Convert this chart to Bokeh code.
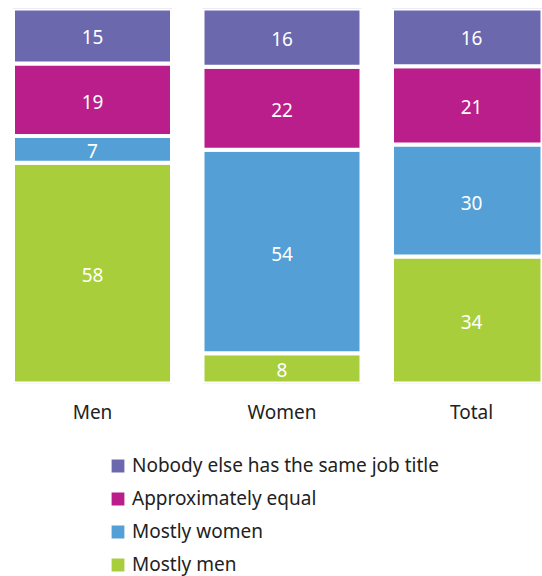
from bokeh.plotting import figure
from bokeh.layouts import column
from bokeh.models import ColumnDataSource, Range1d, FixedTicker, Legend, LegendItem, LabelSet
from bokeh.core.properties import value
from bokeh.embed import file_html
from bokeh.resources import INLINE

categories = ["Men", "Women", "Total"]
series_names = ["Mostly men", "Mostly women", "Approximately equal",
                "Nobody else has the same job title"]
mostly_men = [58, 8, 34]
mostly_women = [7, 54, 30]
approximately_equal = [19, 22, 21]
nobody_else = [15, 16, 16]
colors = ["#A8CF3B", "#539FD6", "#BA1E8A", "#6C68AE"]

FONT = "Noto Sans"
series = [mostly_men, mostly_women, approximately_equal, nobody_else]
xs = list(range(len(categories)))
totals = [sum(s[i] for s in series) for i in xs]

p = figure(width=542, height=440, output_backend="svg", toolbar_location=None,
           x_range=Range1d(-0.4433, 2.3747), y_range=Range1d(0, 99.47),
           y_axis_location=None,
           min_border_left=8, min_border_right=0, min_border_top=8,
           min_border_bottom=57)
p.outline_line_color = None
p.xgrid.grid_line_color = None
p.ygrid.grid_line_color = None

ax = p.xaxis[0]
ax.ticker = FixedTicker(ticks=xs)
ax.major_label_overrides = {i: c for i, c in zip(xs, categories)}
ax.axis_line_color = None
ax.major_tick_line_color = None
ax.minor_tick_line_color = None
ax.major_label_text_font = FONT
ax.major_label_text_font_size = "19px"
ax.major_label_text_color = "#222222"
ax.major_label_standoff = 9

bottoms = [0.0] * len(xs)
for name, vals, col in zip(series_names, series, colors):
    pct = [v / t * 100 for v, t in zip(vals, totals)]
    tops = [b + q for b, q in zip(bottoms, pct)]
    src = ColumnDataSource(dict(
        x=xs, bottom=bottoms, top=tops,
        mid=[(b + t) / 2 for b, t in zip(bottoms, tops)],
        label=[str(v) for v in vals]))
    p.vbar(x="x", bottom="bottom", top="top", width=0.839, source=src,
           fill_color=col, line_color="white", line_width=4)
    p.add_layout(LabelSet(x="x", y="mid", text="label", source=src,
                          text_align="center", text_baseline="middle",
                          y_offset=-2,
                          text_color="white", text_font=value(FONT),
                          text_font_size="19px"))
    bottoms = tops

# legend figure
lg = figure(width=542, height=136, output_backend="svg", toolbar_location=None,
            x_axis_location=None, y_axis_location=None,
            min_border_left=0, min_border_right=0, min_border_top=0,
            min_border_bottom=0, x_range=Range1d(0, 1), y_range=Range1d(0, 1))
lg.outline_line_color = None
lg.xgrid.grid_line_color = None
lg.ygrid.grid_line_color = None
items = []
for name, col in reversed(list(zip(series_names, colors))):
    r = lg.vbar(x=[5], bottom=[5], top=[6], width=1, fill_color=col,
                line_color="white", line_width=4)
    items.append(LegendItem(label=name, renderers=[r]))
legend = Legend(items=items, location=(99, -1), orientation="vertical",
                border_line_color=None, background_fill_alpha=0,
                padding=0, margin=0, spacing=7,
                glyph_width=21, glyph_height=21, label_height=21,
                label_standoff=4, label_text_font=FONT,
                label_text_font_size="19px", label_text_color="#222222")
lg.add_layout(legend)

open("out.html", "w").write(file_html(column(p, lg, spacing=0), INLINE))
